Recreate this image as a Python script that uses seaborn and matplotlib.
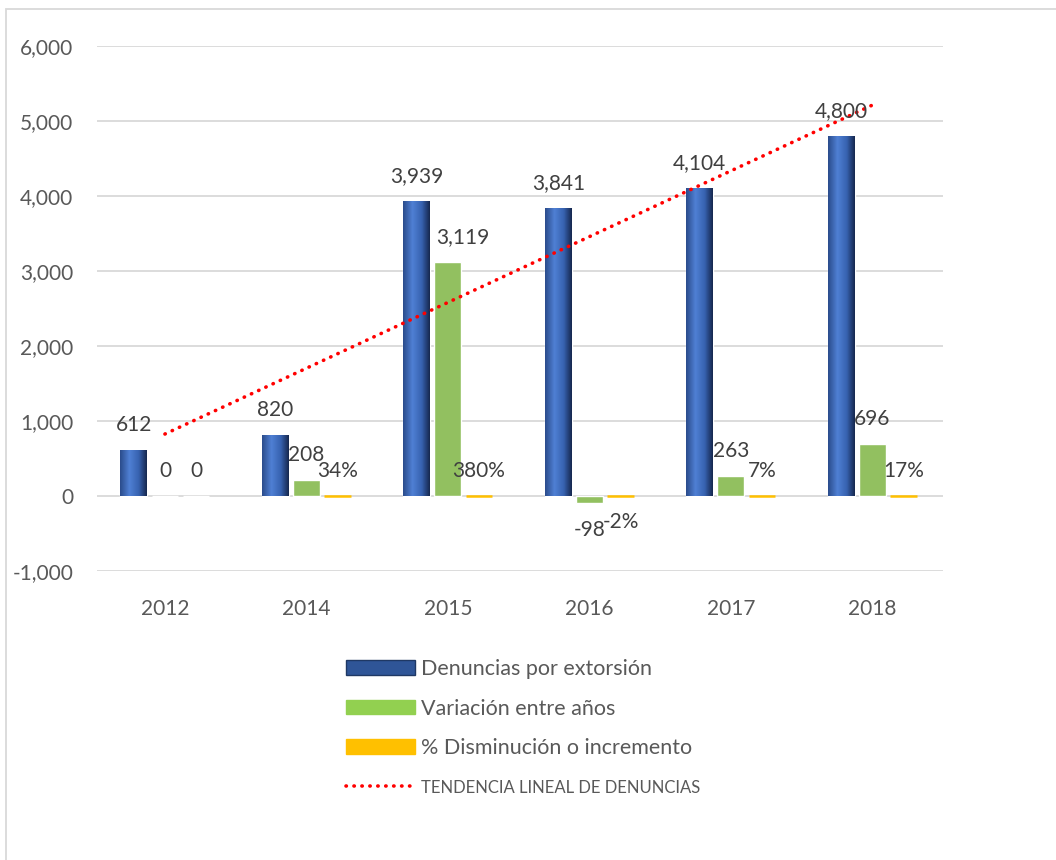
import numpy as np
import pandas as pd
import seaborn as sns
import matplotlib.pyplot as plt
from matplotlib.patches import Patch, Rectangle
from matplotlib.lines import Line2D
from matplotlib.colors import LinearSegmentedColormap
from matplotlib.ticker import FuncFormatter

# Datos
anios = ['2012', '2014', '2015', '2016', '2017', '2018']
denuncias = [612, 820, 3939, 3841, 4104, 4800]
variacion = [0, 208, 3119, -98, 263, 696]
porcentaje = [0, 0.34, 3.80, -0.02, 0.07, 0.17]
etiquetas_pct = ['0', '34%', '380%', '-2%', '7%', '17%']

series = ['Denuncias por extorsión', 'Variación entre años', '% Disminución o incremento']
colores = ['#2F5597', '#92D050', '#FFC000']
nombre_tendencia = 'TENDENCIA LINEAL DE DENUNCIAS'

df = pd.DataFrame({
    'anio': anios * 3,
    'valor': denuncias + variacion + porcentaje,
    'serie': [series[0]] * 6 + [series[1]] * 6 + [series[2]] * 6,
})

sns.set_theme(style='white')
plt.rcParams['font.family'] = ['Lato', 'DejaVu Sans']

fig = plt.figure(figsize=(10.56, 8.6), dpi=100)
ax = fig.add_axes([0.0919, 0.336, 0.8011, 0.6105])

sns.barplot(data=df, x='anio', y='valor', hue='serie', hue_order=series,
            palette=colores, width=0.66, gap=0.14, legend=False, ax=ax)

# Barras azules con efecto cilindro
cilindro = LinearSegmentedColormap.from_list(
    'cil', [(0, '#2B4C8C'), (0.35, '#4F80D4'), (0.7, '#3762B0'), (1, '#16284F')])
for bar in ax.containers[0]:
    x0, y0 = bar.get_x(), bar.get_y()
    w, h = bar.get_width(), bar.get_height()
    im = ax.imshow(np.linspace(0, 1, 64).reshape(1, -1), cmap=cilindro,
                   extent=(x0, x0 + w, y0, y0 + h), aspect='auto', zorder=3)
    im.set_clip_path(bar)

# Barras de porcentaje casi nulas: solo se ve el borde
for bar, v in zip(ax.containers[2], porcentaje):
    if v != 0:
        bar.set_edgecolor('#FFC000')
        bar.set_linewidth(1.8)

# Etiquetas de datos
def fmt(v):
    return '{:,.0f}'.format(v).replace('\u2212', '-')

for k, (cont, textos) in enumerate([(ax.containers[0], [fmt(v) for v in denuncias]),
                                    (ax.containers[1], [fmt(v) for v in variacion]),
                                    (ax.containers[2], etiquetas_pct)]):
    for bar, t in zip(cont, textos):
        v = bar.get_height()
        xc = bar.get_x() + bar.get_width() / 2
        dx = 0
        if k == 1 and v > 2000:
            dx = 11  # etiqueta desplazada para no tapar la barra azul
        dy = 18 if v >= 0 else -19
        ax.annotate(t, (xc, v), xytext=(dx, dy), textcoords='offset points',
                    ha='center', va='center', fontsize=15, color='#404040', zorder=6)

# Tendencia lineal de las denuncias
pos = np.arange(len(anios))
m, b = np.polyfit(pos, denuncias, 1)
ax.plot(pos, m * pos + b, color='#FF0000', lw=2.6, linestyle=(0, (0.1, 2.1)),
        dash_capstyle='round', zorder=5)

ax.set_xlim(-0.48, 5.5)
ax.set_ylim(-1000, 6000)
ax.set_yticks(range(-1000, 6001, 1000))
ax.yaxis.set_major_formatter(FuncFormatter(lambda v, p: fmt(v)))
ax.set_xlabel('')
ax.set_ylabel('')
ax.yaxis.grid(True, color='#D9D9D9', lw=1.3)
ax.set_axisbelow(True)
for s in ax.spines.values():
    s.set_visible(False)
ax.tick_params(axis='both', length=0, labelsize=15, colors='#595959')
ax.tick_params(axis='y', pad=17)
ax.tick_params(axis='x', pad=20)

# Leyenda
handles = [
    Patch(facecolor='#2F5597', edgecolor='#1F3864'),
    Patch(facecolor='#92D050', edgecolor='#92D050'),
    Patch(facecolor='#FFC000', edgecolor='#FFC000'),
    Line2D([0], [0], color='#FF0000', lw=2.6, linestyle=(0, (0.1, 2.1)), dash_capstyle='round'),
]
leg = fig.legend(handles, series + [nombre_tendencia], loc='upper left',
                 bbox_to_anchor=(0.3275, 0.234), frameon=False, fontsize=15.5,
                 handlelength=3.2, handleheight=0.68, handletextpad=0.3,
                 labelspacing=0.92, borderpad=0, borderaxespad=0)
for t in leg.get_texts():
    t.set_color('#595959')
leg.get_texts()[3].set_fontsize(12)

# Marco exterior
fig.add_artist(Rectangle((6 / 1056, -0.1), 1.2, 1 - 9 / 860 + 0.1, transform=fig.transFigure,
                         fill=False, edgecolor='#D9D9D9', lw=1.3))

fig.savefig('out.png', dpi=100)
